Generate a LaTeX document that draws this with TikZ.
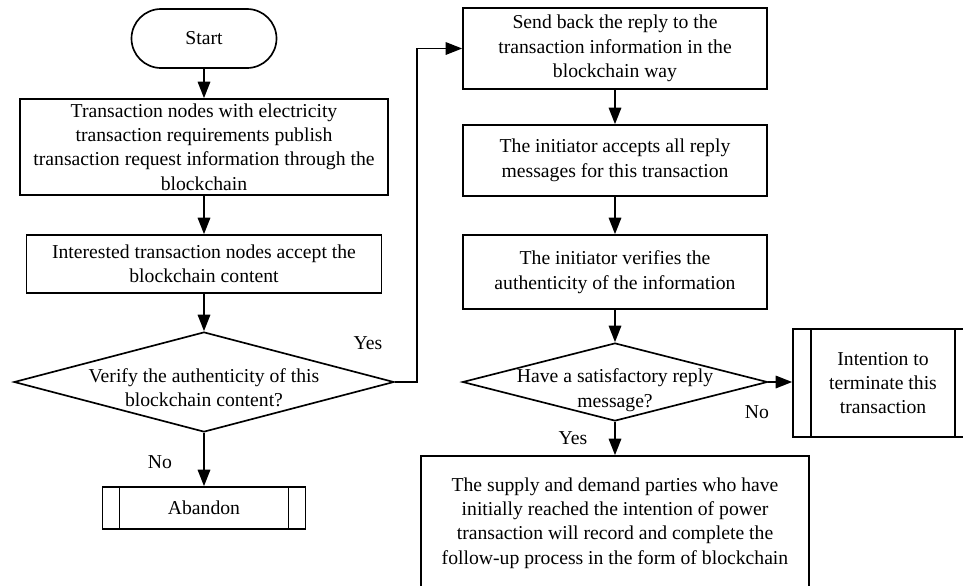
\documentclass[tikz,border=0pt]{standalone}
\usepackage{fontspec}
\setmainfont{Liberation Serif}
\usetikzlibrary{shapes.geometric, arrows.meta, calc}

\tikzset{
  procbox/.style={draw, rectangle, align=center, inner sep=0pt},
  terminal/.style={draw, rectangle, rounded corners=5.9mm, align=center,
    minimum width=29mm, minimum height=11.8mm},
  decision/.style={draw, diamond, inner sep=0pt},
  subproc/.style={draw, rectangle, align=center, inner sep=0pt,
    path picture={
      \draw ([xshift=#1]path picture bounding box.north west)
        -- ([xshift=#1]path picture bounding box.south west);
      \draw ([xshift=-#1]path picture bounding box.north east)
        -- ([xshift=-#1]path picture bounding box.south east);
    }},
  subproc/.default=3.4mm,
  flow/.style={->},
}

\begin{document}
\begin{tikzpicture}[x=0.2mm, y=-0.2mm, >={Triangle[length=3.3mm,width=2.5mm]},
  line width=0.95pt, font=\fontsize{11.2}{13.9}\selectfont]

\useasboundingbox (0,0) rectangle (963,585);

% ------------------ left column ------------------
\node[terminal] (start) at (204,38.5) {Start};
\node[procbox, minimum width=73.6mm, minimum height=19.2mm] (publish) at (204,147)
  {Transaction nodes with electricity\\ transaction requirements publish\\
   transaction request information through the\\ blockchain};
\node[procbox, minimum width=71mm, minimum height=11.6mm] (accept) at (204,264)
  {Interested transaction nodes accept the\\ blockchain content};
\node[decision, minimum width=76mm, minimum height=20mm,
  label={[align=center, yshift=-1.1mm]center:{Verify the authenticity of this\\ blockchain content?}}]
  (verify) at (204,382) {};
\node[subproc, minimum width=40.6mm, minimum height=8.4mm] (abandon) at (204,508) {Abandon};

% ------------------ right column ------------------
\node[procbox, minimum width=60.8mm, minimum height=16.2mm] (sendback) at (615,48.5)
  {Send back the reply to the\\ transaction information in the\\ blockchain way};
\node[procbox, minimum width=60.8mm, minimum height=14.2mm] (collect) at (615,160.5)
  {The initiator accepts all reply\\ messages for this transaction};
\node[procbox, minimum width=60.8mm, minimum height=14.8mm] (check) at (615,272)
  {The initiator verifies the\\ authenticity of the information};
\node[decision, minimum width=61mm, minimum height=15.6mm,
  label={[align=center, yshift=-1.6mm]center:{Have a satisfactory reply\\ message?}}]
  (satisfy) at (615,382) {};
\node[subproc=3.6mm, minimum width=36mm, minimum height=21.6mm] (terminate) at (883,383)
  {Intention to\\ terminate this\\ transaction};
\node[procbox, minimum width=77.6mm, minimum height=26.8mm] (record) at (615,523)
  {The supply and demand parties who have\\ initially reached the intention of power\\
   transaction will record and complete the\\ follow-up process in the form of blockchain};

% labels
\node (yesA) at (368,343) {Yes};
\node (noA) at (160,462) {No};
\node (noB) at (757,412) {No};
\node (yesB) at (573,438) {Yes};

% connectors
\draw[flow] (start) -- (publish);
\draw[flow] (publish) -- (accept);
\draw[flow] (accept) -- (verify);
\draw[flow] (verify) -- (abandon);
\draw[flow] (verify.east) -- ++(22,0) |- (sendback.west);
\draw[flow] (sendback) -- (collect);
\draw[flow] (collect) -- (check);
\draw[flow] (check) -- (satisfy);
\draw[flow] (satisfy.east) -- (satisfy.east -| terminate.west);
\draw[flow] (satisfy) -- (record);

\end{tikzpicture}
\end{document}
